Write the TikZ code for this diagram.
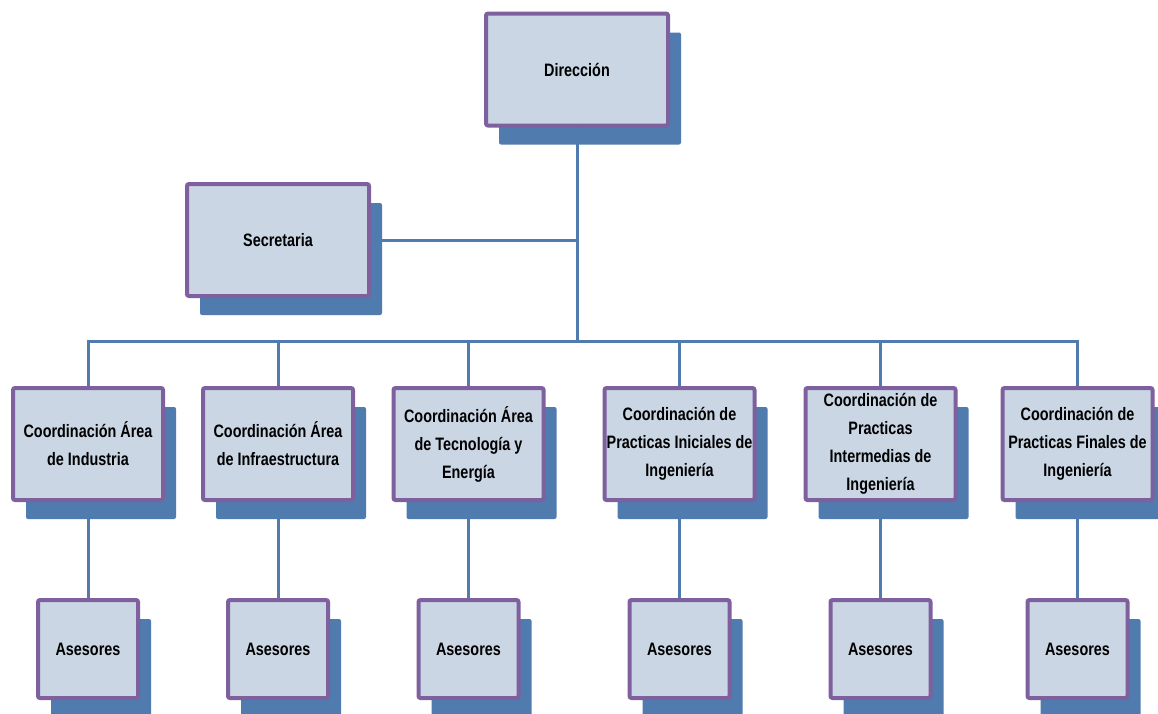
\documentclass[tikz,border=0pt]{standalone}
\usepackage{fontspec}
\setmainfont{Liberation Sans}[FakeStretch=0.8]
\usepackage{tikz}
\usetikzlibrary{positioning, shadows}

\definecolor{boxfill}{RGB}{202,214,228}
\definecolor{boxline}{RGB}{126,96,158}
\definecolor{shadowblue}{RGB}{79,123,174}

\begin{document}
\begin{tikzpicture}[
  x=0.75pt, y=-0.75pt,
  unit/.style={rectangle, draw=boxline, fill=boxfill, line width=3pt,
               rounded corners=1.5pt, text centered, align=center,
               font=\fontsize{13.5}{21}\selectfont\bfseries,
               drop shadow={shadow xshift=9.75pt, shadow yshift=-14.25pt,
                            fill=shadowblue, opacity=1, rounded corners=1.5pt}},
  big/.style={unit, minimum width=136.5pt, minimum height=84pt},
  coord/.style={unit, minimum width=112.5pt, minimum height=84pt, inner sep=1pt},
  ases/.style={unit, minimum width=75pt, minimum height=73.5pt},
  link/.style={draw=shadowblue, line width=2.25pt},
]
\useasboundingbox (0,0) rectangle (1158,714);

\node[big] (dir) at (577,69.5) {Dirección};
\node[big] (sec) at (278,240) {Secretaria};

\node[coord] (c1) at (88,444)    {Coordinación Área\\de Industria};
\node[coord] (c2) at (278,444)   {Coordinación Área\\de Infraestructura};
\node[coord] (c3) at (468.5,444) {Coordinación Área\\de Tecnología y\\Energía};
\node[coord] (c4) at (679.5,444) {Coordinación de\\Practicas Iniciales de\\Ingeniería};
\node[coord] (c5) at (880.5,444) {Coordinación de\\Practicas\\Intermedias de\\Ingeniería};
\node[coord] (c6) at (1077.5,444){Coordinación de\\Practicas Finales de\\Ingeniería};

\node[ases, below=72pt of c1] (a1) {Asesores};
\node[ases, below=72pt of c2] (a2) {Asesores};
\node[ases, below=72pt of c3] (a3) {Asesores};
\node[ases, below=72pt of c4] (a4) {Asesores};
\node[ases, below=72pt of c5] (a5) {Asesores};
\node[ases, below=72pt of c6] (a6) {Asesores};

\coordinate (bus) at (577,341);
\coordinate (mid) at (577,240);

\draw[link] (dir.south) -- (bus);
\draw[link] (sec.east) -- (mid);
\draw[link] (c1.north) |- (c6.north |- bus) -- (c6.north);
\foreach \n in {2,...,5}
  \draw[link] (c\n.north) -- (c\n.north |- bus);
\foreach \n in {1,...,6}
  \draw[link] (c\n.south) -- (a\n.north);
\end{tikzpicture}
\end{document}
